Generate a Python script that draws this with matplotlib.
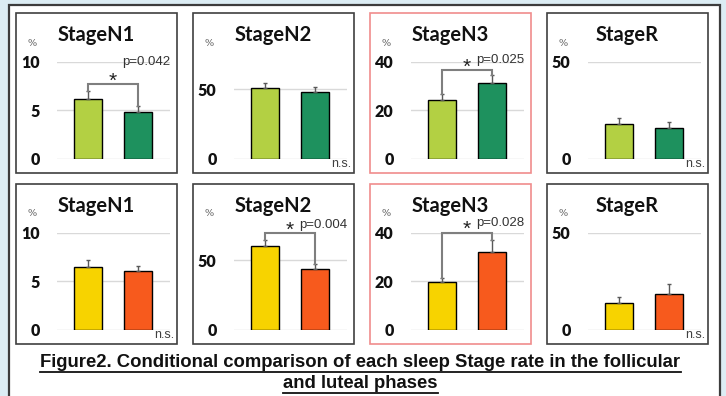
import matplotlib.pyplot as plt
from matplotlib.patches import Rectangle

W, H = 726, 396

stages = ['StageN1', 'StageN2', 'StageN3', 'StageR']
y_max = [10, 70, 40, 50]
y_ticks = [[0, 5, 10], [0, 50], [0, 20, 40], [0, 50]]

# top row (green pair)
top_a = [6.15, 51.2, 24.3, 18.0]
top_a_err = [0.8, 3.6, 2.1, 2.9]
top_b = [4.8, 47.9, 31.0, 15.9]
top_b_err = [0.6, 3.7, 3.5, 3.1]
top_p = ['p=0.042', None, 'p=0.025', None]
top_bracket = [7.7, None, 36.4, None]

# bottom row (yellow / orange pair)
bot_a = [6.45, 60.0, 19.7, 13.5]
bot_a_err = [0.75, 4.3, 1.6, 3.1]
bot_b = [6.0, 43.8, 32.1, 18.1]
bot_b_err = [0.56, 3.6, 4.8, 5.1]
bot_p = [None, 'p=0.004', 'p=0.028', None]
bot_bracket = [None, 69.7, 40.0, None]

caption = ['Figure2. Conditional comparison of each sleep Stage rate in the follicular',
           'and luteal phases']

rows = [
    dict(a=top_a, ae=top_a_err, b=top_b, be=top_b_err, p=top_p, br=top_bracket,
         colors=['#b3d043', '#1e915e'], fy=13, p_y=[10.0, None, 40.5, None]),
    dict(a=bot_a, ae=bot_a_err, b=bot_b, be=bot_b_err, p=bot_p, br=bot_bracket,
         colors=['#f7d300', '#f75a1d'], fy=184, p_y=[None, 75.5, 44.0, None]),
]
frame_x = [16, 193, 370, 547]
frame_w, frame_h = 161, 160

fig = plt.figure(figsize=(W / 100, H / 100), dpi=100, facecolor='#dcedf4')

# background layer in pixel coordinates
bg = fig.add_axes([0, 0, 1, 1])
bg.set_xlim(0, W)
bg.set_ylim(H, 0)
bg.axis('off')
bg.add_patch(Rectangle((8.5, 4.5), 711.5, 400, facecolor='white',
                       edgecolor='#3c3c3c', lw=1.6))


def px_axes(x, y, w, h):
    return fig.add_axes([x / W, 1 - (y + h) / H, w / W, h / H])


for row in rows:
    fy = row['fy']
    for i, stage in enumerate(stages):
        fx = frame_x[i]
        edge = '#f08c8c' if stage == 'StageN3' else '#404040'
        bg.add_patch(Rectangle((fx, fy), frame_w, frame_h, facecolor='white',
                               edgecolor=edge, lw=1.2))
        bg.text(fx + frame_w / 2, fy + 22, stage, ha='center', va='center',
                fontsize=14.5, fontweight='bold', family='Lato', color='#111111')
        bg.text(fx + 16, fy + 30, '%', ha='center', va='center', fontsize=7,
                color='#555555', family='DejaVu Serif')

        ax = px_axes(fx + 41, fy + 48.5, 113, 97)
        ax.set_facecolor('none')
        vals = [row['a'][i], row['b'][i]]
        errs = [row['ae'][i], row['be'][i]]
        ax.bar([0, 1], vals, width=0.55, color=row['colors'],
               edgecolor='black', linewidth=1.0, zorder=2)
        ax.errorbar([0, 1], vals, yerr=[[0, 0], errs], fmt='none',
                    ecolor='#595959', elinewidth=1.0, capsize=1.5, capthick=1.0, zorder=3)
        ax.set_xlim(-0.614, 1.63)
        ax.set_ylim(0, y_max[i])
        ax.set_yticks(y_ticks[i])
        ax.set_xticks([])
        ax.grid(axis='y', color='#d9d9d9', lw=1.0)
        ax.set_axisbelow(True)
        for s in ax.spines.values():
            s.set_visible(False)
        ax.tick_params(axis='y', length=0, pad=12.5)
        for lab in ax.get_yticklabels():
            lab.set_fontweight('heavy')
            lab.set_fontsize(11.5)
            lab.set_family('Lato')
            lab.set_color('#111111')

        h = row['br'][i]
        if h is not None:
            tops = [v + e for v, e in zip(vals, errs)]
            ax.plot([0, 0, 1, 1], [tops[0], h, h, tops[1]], color='#7f7f7f',
                    lw=1.5, clip_on=False, zorder=4, solid_joinstyle='miter')
            ax.annotate('*', (0.5, h), xytext=(0, -2), textcoords='offset points',
                        ha='center', va='baseline', fontsize=15, color='#222222',
                        family='Liberation Sans', annotation_clip=False)
            ax.text(1.0, row['p_y'][i], row['p'][i], transform=ax.get_yaxis_transform(),
                    ha='right', va='center', fontsize=9.5, color='#333333',
                    family='Liberation Sans', clip_on=False)
        else:
            bg.text(fx + frame_w - 3, fy + 151, 'n.s.', ha='right', va='center',
                    fontsize=9, color='#404040', family='Liberation Sans')

# caption with underline
cap_y = [367, 388]
cap_texts = [bg.text(360.5, y, t, ha='center', va='baseline', fontsize=13.3,
                     fontweight='bold', family='Liberation Sans', color='#111111')
             for t, y in zip(caption, cap_y)]
fig.canvas.draw()
inv = bg.transData.inverted()
for t, y in zip(cap_texts, cap_y):
    bb = t.get_window_extent()
    (x0, _), (x1, _) = inv.transform([(bb.x0, bb.y0), (bb.x1, bb.y1)])
    bg.plot([x0, x1], [y + 4.5, y + 4.5], color='#111111', lw=1.3)

fig.savefig('out.png', dpi=100, facecolor=fig.get_facecolor())
